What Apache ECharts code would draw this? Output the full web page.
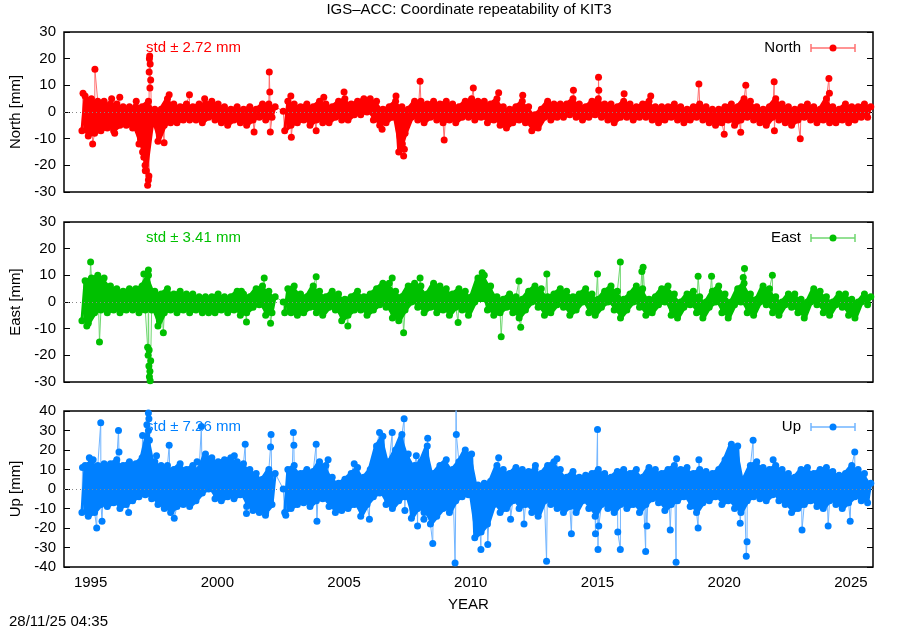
<!DOCTYPE html>
<html><head><meta charset="utf-8">
<script src="https://cdn.jsdelivr.net/npm/echarts@6/dist/echarts.min.js"></script>
<style>html,body{margin:0;padding:0;background:#fff}#c{width:900px;height:630px}</style>
</head><body><div id="c"></div>
<script>
// ---------- axis / tick values ----------
const X_MIN = 1993.95, X_MAX = 2025.87;
const yearTicks = [1995, 2000, 2005, 2010, 2015, 2020, 2025];
const neRange = [-30, 30];
const upRange = [-40, 40];

// ---------- band envelope, one bin every quarter year starting at BIN_FIRST ----------
const BIN_FIRST = 1994.72, BIN_STEP = 0.25;

const northLo = [
-7,-9,-8,-7,-6,-7,-5,-5,-6,-12,
-22,-4,-11,-5,-4,-4,-3,-3,-3,-4,
-2,-3,-4,-5,-3,-4,-5,-3,-2,-3,
-2,null,-7,-5,-4,-3,-5,-3,-4,-4,
-2,-3,-3,-1,-1,0,-3,-5,-4,-2,
-15,-8,-2,-3,-4,-2,-3,-4,-3,-4,
-2,-2,-3,-2,-4,-3,-5,-6,-4,-3,
-4,-7,-6,-2,-3,-2,-2,-1,-2,-3,
-2,-1,-2,-3,-4,-2,-2,-3,-2,-2,
-3,-4,-3,-2,-3,-4,-3,-2,-3,-4,
-5,-4,-3,-5,-3,-2,-3,-4,-5,-2,
-3,-4,-5,-3,-2,-3,-4,-3,-4,-4,
-3,-4,-3,-2,-2];
const northHi = [
6,5,4,4,3,3,2,2,2,2,
4,1,1,5,3,2,3,2,3,3,
4,3,2,1,2,1,2,1,3,3,
2,null,4,3,2,3,2,4,3,2,
4,5,3,4,5,5,4,1,2,4,
2,1,4,4,3,4,3,4,3,2,
4,5,4,4,3,5,2,1,2,4,
2,-1,1,4,3,3,3,5,3,2,
4,5,3,3,2,4,3,2,3,4,
2,2,2,3,2,1,2,3,2,1,
1,2,3,2,5,4,2,1,2,5,
3,2,1,2,3,2,1,5,2,1,
3,2,2,3,2];
const northOut = [[1994.7,7],[1995.08,-12],[1995.17,16],[1995.83,5],[1995.95,-8],[1996.15,5.5],[1996.8,4],
[1997.05,-15],[1997.1,-17],[1997.15,-20],[1997.2,-22],[1997.25,-27.5],[1997.28,-25.5],[1997.3,-24],
[1997.31,15],[1997.32,20],[1997.33,21],[1997.34,9],[1997.35,18],[1997.37,12],[1997.9,-11.5],[1998.1,6.5],
[1998.9,6.5],[1999.5,5],[2001.45,-7.5],[2002.05,15],[2002.07,7.5],[2002.09,-7.5],[2002.6,0.3],[2002.9,6],
[2002.92,-9.5],[2003.9,-7],[2004.2,5.5],[2005.0,7.5],[2006.5,-6.5],[2007.05,6],[2007.3,-12],[2007.35,-16.5],
[2007.38,-14],[2008.0,11.5],[2008.95,-10.5],[2010.1,9],[2011.1,7.2],[2012.05,6.3],[2014.05,8.2],[2015.04,13],
[2015.05,8.2],[2016.05,6.8],[2017.1,6],[2019.0,10.5],[2020.0,-8.3],[2020.65,-7.6],[2020.85,10],[2021.97,11.3],
[2021.98,-7],[2023.0,-10],[2024.13,12.6],[2024.15,7]];

const eastLo = [
-7,-8,-4,-3,-4,-3,-4,-3,-3,-4,
-3,-3,-9,-4,-3,-4,-3,-4,-3,-4,
-4,-4,-3,-4,-3,-5,-4,-2,-1,-5,
-4,null,-4,-4,-5,-4,-2,-4,-5,-2,
-3,-7,-5,-3,-3,-5,-3,-1,-2,-6,
-7,-3,0,-2,-4,-2,-4,-3,-5,-2,
-3,-5,0,2,-3,-5,-4,-2,-4,-6,
-3,0,-2,-5,-4,-1,-2,-5,-3,0,
-4,-5,-2,0,-3,-6,-3,0,-2,-5,
-4,-1,0,-5,-6,-2,-1,-4,-6,-2,
0,-4,-6,-1,0,-4,-5,0,-1,-4,
-5,-1,-2,-4,-6,0,-1,-4,-5,-1,
-2,-5,-6,0,-1];
const eastHi = [
8,9,10,9,6,5,4,5,5,6,
10,4,3,5,3,4,3,3,2,2,
2,3,2,2,4,3,2,5,6,4,
2,null,5,6,3,2,6,4,2,4,
3,1,2,4,2,3,5,7,7,4,
2,6,7,6,3,7,6,5,3,5,
4,2,9,10,6,2,1,3,2,1,
4,6,5,2,3,5,4,2,3,5,
3,1,4,6,4,1,3,6,5,1,
2,5,6,3,0,3,4,2,0,4,
6,3,0,5,7,3,1,6,5,2,
0,3,3,1,0,5,4,2,0,3,
3,1,0,3,2];
const eastOut = [[1994.85,-9],[1995.0,15],[1995.35,-15],[1997.1,10.5],[1997.25,-17],[1997.27,-20],[1997.28,12],
[1997.3,-24],[1997.31,-18],[1997.32,-28],[1997.34,-26],[1997.35,-29.5],[1997.37,-22],[1997.87,-11.5],
[2000.95,4],[2001.15,-7.5],[2001.85,9],[2002.1,-8],[2002.6,0],[2003.9,9.5],[2005.15,-9],[2006.9,9],
[2007.35,-11.5],[2008.0,9],[2009.5,-7.7],[2010.45,11],[2011.2,-13],[2011.9,7.9],[2011.97,-9.5],[2013.0,10.5],
[2015.0,10.5],[2015.9,15],[2016.75,11.4],[2016.8,13],[2018.97,9.7],[2019.5,9.7],[2020.75,9.2],[2020.8,12.6],
[2021.9,10]];

const upLo = [
-12,-14,-12,-8,-9,-7,-10,-8,-6,-4,
-3,-5,-8,-10,-12,-9,-8,-9,-6,-2,
0,-5,-6,-4,-5,-3,-9,-11,-12,-12,
-8,null,-12,-10,-8,-7,-9,-6,-5,-9,
-12,-11,-10,-8,-14,-8,-4,-2,-8,-10,
-6,-4,-15,-10,-12,-18,-14,-10,-12,-6,
-4,-3,-25,-22,-18,-8,-12,-10,-6,-10,
-8,-12,-14,-6,-8,-10,-12,-9,-12,-6,
-10,-14,-8,-10,-12,-8,-10,-8,-12,-8,
-5,-7,-11,-8,-6,-4,-9,-12,-7,-6,
-4,-8,-6,-10,-12,-6,-4,-5,-6,-3,
-6,-8,-12,-10,-8,-6,-9,-10,-6,-8,
-10,-7,-4,-6,-7];
const upHi = [
12,14,12,13,13,15,12,14,13,16,
30,14,12,12,10,13,10,12,10,18,
16,14,15,16,14,13,10,8,5,10,
8,null,10,12,8,10,9,14,12,6,
3,5,8,11,6,10,22,27,14,20,
28,18,12,14,22,8,12,15,10,14,
20,18,2,3,4,12,10,8,11,10,
9,10,8,12,14,10,6,9,6,7,
8,10,8,6,9,10,8,10,6,11,
10,8,10,12,10,11,8,10,9,8,
10,15,23,22,5,12,14,11,10,12,
10,8,6,10,11,8,10,11,9,7,
8,12,10,8,3];
const upOut = [[1994.68,11],[1994.95,16],[1995.1,15],[1995.24,-20],[1995.4,34],[1995.45,-16.5],[1996.1,30],
[1996.12,19],[1996.5,-12],[1997.05,27.5],[1997.22,33],[1997.28,39],[1997.3,36],[1997.32,25],[1997.6,17],
[1998.1,22.5],[1998.3,-15],[1999.2,14],[1999.37,32],[2000.67,17],[2001.1,23],[2001.15,-12.5],[2001.9,-13.5],
[2002.1,21.5],[2002.12,28],[2002.6,0],[2002.7,-13.5],[2003.0,29],[2003.02,22.5],[2003.9,23],[2003.93,-16.5],
[2004.37,15],[2005.4,13],[2006.0,-15.5],[2006.4,29],[2006.9,29],[2007.37,36],[2007.4,-11],[2007.85,17],
[2007.9,-19],[2008.15,-15.5],[2008.3,26],[2008.5,-28],[2009.38,-38],[2009.42,45],[2009.43,28],[2010.4,-31],
[2010.67,-28.5],[2011.1,16],[2011.57,-15.5],[2012.1,-18],[2012.55,12],[2012.99,-37],[2013.4,15.5],
[2013.97,-23],[2014.92,-23],[2015.0,30.5],[2015.02,-31],[2015.05,-19],[2015.8,-22],[2015.9,-31],[2016.9,-32],
[2016.95,-19],[2017.87,-21],[2018.1,-37.5],[2018.12,15.5],[2018.97,-20],[2019.0,15],[2020.63,-17.5],
[2020.87,-34.5],[2020.9,-27],[2021.14,25],[2021.93,15],[2023.07,-21],[2024.1,-19],[2024.97,-16.5],[2025.15,19]];

// ---------- labels ----------
const titleText = 'IGS\u2013ACC: Coordinate repeatability of KIT3';
const names = ['North', 'East', 'Up'];
const stdTexts = ['std \u00b1 2.72 mm', 'std \u00b1 3.41 mm', 'std \u00b1 7.26 mm'];
const dateText = '28/11/25 04:35';

// ---------- styling / layout ----------
const FONT = 'Liberation Sans, Arial, Helvetica, sans-serif';
const colors = ['#ff0000', '#00c000', '#0080ff'];
const lineColors = ['#ff7070', '#6fd66f', '#70b4ff'];
const grids = [
  {left: 64, top: 32, width: 809, height: 160},
  {left: 64, top: 222, width: 809, height: 160},
  {left: 64, top: 411, width: 809, height: 156}
];
const Q = BIN_STEP / 4;

function binX(i) { return BIN_FIRST + i * BIN_STEP; }
function envData(arr) { return arr.map((v, i) => [binX(i), v == null ? '-' : v]); }
function bandPts(lo, hi) {
  const pts = [];
  for (let i = 0; i < lo.length; i++) {
    if (lo[i] == null) { pts.push([binX(i), '-']); continue; }
    pts.push([binX(i) - Q, lo[i]]);
    pts.push([binX(i) + Q, hi[i]]);
  }
  return pts;
}
// all observations (band extremes + isolated outliers) in time order
function allPts(lo, hi, out) {
  const pts = bandPts(lo, hi).filter(p => p[1] !== '-');
  out.forEach(p => pts.push(p));
  pts.sort((a, b) => a[0] - b[0]);
  return pts;
}

const los = [northLo, eastLo, upLo], his = [northHi, eastHi, upHi], outs = [northOut, eastOut, upOut];
const ranges = [neRange, neRange, upRange];
const yearFmt = v => String(Math.round(v));

const xAxes = [], yAxes = [], series = [], graphics = [];
for (let k = 0; k < 3; k++) {
  const bottom = k === 2;
  xAxes.push({
    gridIndex: k, type: 'value', min: X_MIN, max: X_MAX, position: 'bottom',
    axisLine: {show: false}, splitLine: {show: false},
    axisTick: {show: bottom, inside: true, length: 6, customValues: yearTicks, lineStyle: {color: '#000'}},
    axisLabel: {show: bottom, customValues: yearTicks, formatter: yearFmt, color: '#000', fontSize: 15, fontFamily: FONT, margin: 8},
    name: bottom ? 'YEAR' : '', nameLocation: 'middle', nameGap: 30,
    nameTextStyle: {color: '#000', fontSize: 15, fontFamily: FONT}
  });
  yAxes.push({
    gridIndex: k, type: 'value', min: ranges[k][0], max: ranges[k][1], interval: 10, position: 'left',
    axisLine: {show: false}, splitLine: {show: false},
    axisTick: {show: true, inside: true, length: 6, lineStyle: {color: '#000'}},
    axisLabel: {color: '#000', fontSize: 15, fontFamily: FONT, margin: 8},
    name: names[k] + ' [mm]', nameLocation: 'middle', nameGap: 41,
    nameTextStyle: {color: '#000', fontSize: 15, fontFamily: FONT}
  });
  yAxes.push({
    gridIndex: k, type: 'value', min: ranges[k][0], max: ranges[k][1], interval: 10, position: 'right',
    axisLine: {show: false}, splitLine: {show: false},
    axisTick: {show: true, inside: true, length: 6, lineStyle: {color: '#000'}},
    axisLabel: {show: false}
  });
  // observations joined in time order (thin line, below the band)
  series.push({
    type: 'line', xAxisIndex: k, yAxisIndex: 2 * k, z: 3, clip: true, silent: true,
    data: allPts(los[k], his[k], outs[k]),
    symbol: 'none', showSymbol: false,
    lineStyle: {color: lineColors[k], width: 1},
    markLine: {silent: true, symbol: 'none', animation: false, label: {show: false},
      lineStyle: {type: [1, 3], color: '#888', width: 1}, data: [{yAxis: 0}]}
  });
  // dense band: upper envelope filled down to zero, lower envelope filled up to zero
  [his[k], los[k]].forEach(env => {
    series.push({
      type: 'line', xAxisIndex: k, yAxisIndex: 2 * k, z: 4, silent: true,
      data: envData(env), connectNulls: false,
      symbol: 'none', showSymbol: false,
      lineStyle: {width: 2, color: colors[k]},
      areaStyle: {color: colors[k], opacity: 1, origin: 0}
    });
  });
  // zig-zag through the band extremes, full colour, to close any slivers
  series.push({
    type: 'line', xAxisIndex: k, yAxisIndex: 2 * k, z: 4, silent: true, clip: true,
    data: bandPts(los[k], his[k]), connectNulls: false,
    symbol: 'none', showSymbol: false,
    lineStyle: {width: 3, color: colors[k]}
  });
  // observation markers on top
  series.push({
    type: 'scatter', xAxisIndex: k, yAxisIndex: 2 * k, z: 5, clip: true, silent: true,
    data: allPts(los[k], his[k], outs[k]),
    symbol: 'circle', symbolSize: 7,
    itemStyle: {color: colors[k], opacity: 1}
  });
  const g = grids[k];
  const ly = g.top + 16;
  graphics.push({type: 'text', x: 146, y: ly, style: {text: stdTexts[k], fill: colors[k], font: '15px ' + FONT, textVerticalAlign: 'middle'}});
  graphics.push({type: 'text', x: 801, y: ly, style: {text: names[k], fill: '#000', font: '15px ' + FONT, textAlign: 'right', textVerticalAlign: 'middle'}});
  graphics.push({type: 'line', shape: {x1: 811, y1: ly, x2: 855, y2: ly}, style: {stroke: lineColors[k], lineWidth: 1.5}});
  graphics.push({type: 'line', shape: {x1: 811, y1: ly - 4, x2: 811, y2: ly + 4}, style: {stroke: lineColors[k], lineWidth: 1.5}});
  graphics.push({type: 'line', shape: {x1: 855, y1: ly - 4, x2: 855, y2: ly + 4}, style: {stroke: lineColors[k], lineWidth: 1.5}});
  graphics.push({type: 'circle', shape: {cx: 833, cy: ly, r: 3.5}, style: {fill: colors[k]}});
}
// mirrored ticks on top of the bottom panel
xAxes.push({
  gridIndex: 2, type: 'value', min: X_MIN, max: X_MAX, position: 'top',
  axisLine: {show: false}, splitLine: {show: false},
  axisTick: {show: true, inside: true, length: 6, customValues: yearTicks, lineStyle: {color: '#000'}},
  axisLabel: {show: false}
});
graphics.push({type: 'text', x: 469, y: 10, style: {text: titleText, fill: '#000', font: '15px ' + FONT, textAlign: 'center', textVerticalAlign: 'middle'}});
graphics.push({type: 'text', x: 9, y: 622, style: {text: dateText, fill: '#000', font: '15px ' + FONT, textVerticalAlign: 'middle'}});

const chart = echarts.init(document.getElementById('c'), null, {renderer: 'canvas'});
chart.setOption({
  animation: false,
  backgroundColor: '#fff',
  grid: grids.map(g => Object.assign({show: true, borderColor: '#000', borderWidth: 1.5, backgroundColor: 'transparent'}, g)),
  xAxis: xAxes,
  yAxis: yAxes,
  series: series,
  graphic: {elements: graphics}
});
</script></body></html>
